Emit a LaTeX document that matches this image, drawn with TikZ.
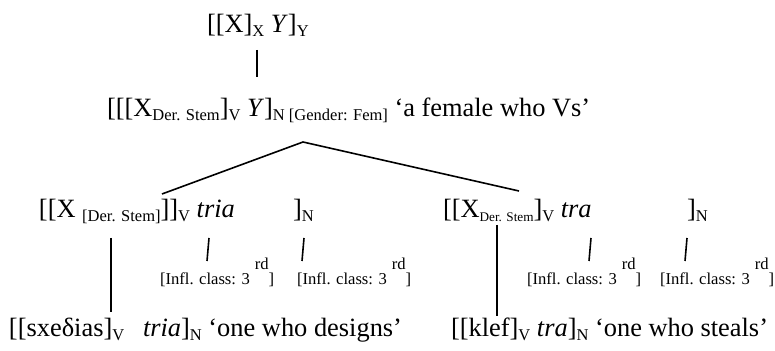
\documentclass[tikz,border=0pt]{standalone}
\usepackage{fontspec}
\setmainfont{Liberation Serif}
\usetikzlibrary{positioning}

\newcommand{\sbs}[1]{\raisebox{-1.8pt}{\fontsize{8.25}{9}\selectfont #1}}
\newcommand{\sbt}[1]{\raisebox{-1.8pt}{\fontsize{6.6}{8}\selectfont #1}}
\newcommand{\infl}{[Infl. class: 3\hspace{2.5pt}\raisebox{7.5pt}{rd}]}

\begin{document}
\begin{tikzpicture}[x=0.5pt,y=-0.5pt,
  font=\fontsize{13.2}{16}\selectfont,
  lbl/.style={anchor=base west,inner sep=0pt,outer sep=0pt},
  cls/.style={lbl,font=\fontsize{8.3}{10}\selectfont},
  ln/.style={line width=0.8pt},
]
\useasboundingbox (0,0) rectangle (775,351);

% ===== schema =====
\node[lbl] (top) at (207,33) {[[X]\sbs{X} \textit{Y}]\sbs{Y}};
\node[lbl] (sch) at (107,117) {[[[X\sbs{Der. Stem}]\sbs{V} \textit{Y}]\sbs{N [Gender: Fem]} ‘a female who Vs’};
\coordinate (tu) at (257,50);
\coordinate (td) at (257,77);
\draw[ln] (tu) -- (td);

% branching
\coordinate (apex) at (303,142);
\coordinate (lft) at (162,194);
\coordinate (rgt) at (519,191);
\draw[ln] (lft) -- (apex) -- (rgt);

% ===== left: tria =====
\node[lbl] (lx) at (39,218) {[[X \sbs{[Der. Stem]}]]\sbs{V} \textit{tria}};
\node[lbl] (ln) at (293,218) {]\sbs{N}};
\node[cls] (lc1) at (160,285) {\infl};
\node[cls] (lc2) at (297,285) {\infl};
\node[lbl] (lw) at (9,337) {[[sxeδias]\sbs{V}};
\node[lbl] (lg) at (143,337) {\textit{tria}]\sbs{N} ‘one who designs’};

% ===== right: tra =====
\node[lbl] (rx) at (443,218) {[[X\sbt{Der. Stem}]\sbs{V} \textit{tra}};
\node[lbl] (rn) at (687,218) {]\sbs{N}};
\node[cls] (rc1) at (527,285) {\infl};
\node[cls] (rc2) at (660,285) {\infl};
\node[lbl] (rw) at (451,337) {[[klef]\sbs{V} \textit{tra}]\sbs{N} ‘one who steals’};

% long lines down to the words
\coordinate (lu) at (111,238);
\coordinate (ld) at (111,312);
\coordinate (ru) at (497,225);
\coordinate (rd) at (497,316);
\draw[ln] (lu) -- (ld);
\draw[ln] (ru) -- (rd);

% short ticks to the class features
\foreach \n/\x in {a/208,b/303,c/590,d/686}{
  \coordinate (\n u) at (\x+1,238);
  \coordinate (\n d) at (\x-1,261);
  \draw[ln] (\n u) -- (\n d);
}
\end{tikzpicture}
\end{document}
